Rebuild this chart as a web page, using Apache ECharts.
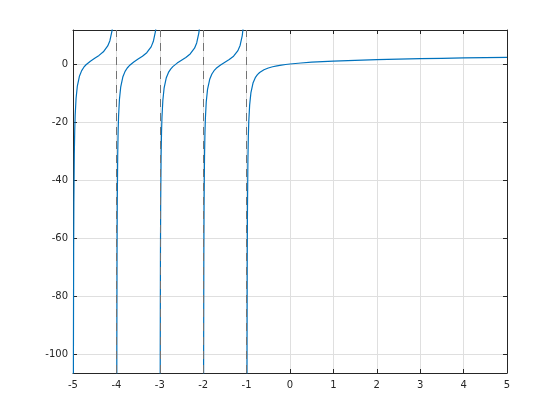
<!DOCTYPE html>
<html>
<head>
<meta charset="utf-8">
<script src="https://cdn.jsdelivr.net/npm/echarts@6/dist/echarts.min.js"></script>
<style>
  html, body { margin: 0; padding: 0; background: #fff; }
  #harmonic { width: 560px; height: 420px; }
</style>
</head>
<body>
<div id="harmonic"></div>
<script>
// harmonic(x) on [-5, 5], poles at -5 .. -1
// distance of each sample from the pole on its left
const poleOffsets = [0.008, 0.01, 0.015, 0.02, 0.03, 0.04, 0.05, 0.07, 0.1, 0.15, 0.2,
  0.25, 0.3, 0.4, 0.5, 0.6, 0.7, 0.8, 0.85, 0.9, 0.92, 0.95];
const branchPoles = [-5, -4, -3, -2];
// values read for the four closed branches
const branch5 = [-122.9, -97.89, -64.55, -47.85, -31.15, -22.79, -17.77, -11.99, -7.608, -4.116, -2.286,
  -1.115, -0.268, 0.971, 1.967, 2.962, 4.197, 6.213, 8.042, 11.53, 14.1, 21.69];
const branch4 = [-123.15, -98.14, -64.8, -48.1, -31.4, -23.04, -18.02, -12.24, -7.864, -4.376, -2.549,
  -1.382, -0.538, 0.693, 1.681, 2.668, 3.894, 5.9, 7.724, 11.21, 13.77, 21.36];
const branch3 = [-123.48, -98.47, -65.13, -48.44, -31.74, -23.38, -18.36, -12.58, -8.209, -4.727, -2.906,
  -1.746, -0.908, 0.308, 1.281, 2.251, 3.459, 5.445, 7.259, 10.73, 13.29, 20.87];
const branch2 = [-123.98, -98.97, -65.63, -48.95, -32.25, -23.89, -18.87, -13.1, -8.735, -5.267, -3.462,
  -2.317, -1.496, -0.317, 0.614, 1.537, 2.69, 4.612, 6.389, 9.822, 12.36, 19.92];
// last branch from the pole at -1 up to 5
const lastX = [-0.992, -0.99, -0.985, -0.98, -0.97, -0.96, -0.95, -0.93, -0.9, -0.85, -0.8, -0.75,
  -0.7, -0.6, -0.5, -0.4, -0.3, -0.2, -0.1, 0, 0.25, 0.5, 0.75, 1, 1.5, 2, 2.5, 3, 3.5, 4, 4.5, 5];
const lastY = [-124.99, -99.98, -66.64, -49.97, -33.28, -24.94, -19.92, -14.18, -9.847, -6.444, -4.712,
  -3.65, -2.925, -1.984, -1.386, -0.963, -0.643, -0.388, -0.178, 0, 0.35, 0.614, 0.825, 1, 1.28,
  1.5, 1.68, 1.833, 1.966, 2.083, 2.188, 2.283];
const asymptotes = [-4, -3, -2, -1];
const xTicks = [-5, -4, -3, -2, -1, 0, 1, 2, 3, 4, 5];

const axisColor = "#262626";
const lineColor = "#0072bd";
const gridColor = "#dfdfdf";

let chart = echarts.init(document.getElementById("harmonic"));

let branches = [branch5, branch4, branch3, branch2];
let series = branches.map((ys, i) => {
  return {
    type: "line",
    showSymbol: false,
    symbol: "none",
    xAxisIndex: 0,
    yAxisIndex: 0,
    lineStyle: { color: lineColor, width: 1.2 },
    data: ys.map((y, j) => [branchPoles[i] + poleOffsets[j], y]),
  };
});
series.push({
  type: "line",
  showSymbol: false,
  symbol: "none",
  xAxisIndex: 0,
  yAxisIndex: 0,
  lineStyle: { color: lineColor, width: 1.2 },
  data: lastX.map((x, j) => [x, lastY[j]]),
  markLine: {
    silent: true,
    symbol: "none",
    label: { show: false },
    lineStyle: { color: "#737373", type: [8, 6], width: 1 },
    data: asymptotes.map((a) => ({ xAxis: a })),
  },
});

let xBase = {
  type: "value",
  min: xTicks[0],
  max: xTicks[xTicks.length - 1],
  interval: 1,
  axisLine: { show: true, onZero: false, lineStyle: { color: axisColor, width: 1 } },
  axisTick: { show: true, inside: true, length: 4, lineStyle: { color: axisColor } },
};
let yBase = {
  type: "value",
  min: -106.55,
  max: 11.72,
  splitNumber: 6,
  axisLine: { show: true, onZero: false, lineStyle: { color: axisColor, width: 1 } },
  axisTick: { show: true, inside: true, length: 4, lineStyle: { color: axisColor } },
};

let option = {
  animation: false,
  backgroundColor: "#fff",
  grid: { left: 73, right: 53, top: 30, bottom: 47 },
  xAxis: [
    Object.assign({}, xBase, {
      position: "bottom",
      axisLabel: { color: axisColor, fontFamily: "DejaVu Sans", fontSize: 10, margin: 7 },
      splitLine: { show: true, lineStyle: { color: gridColor, width: 1 } },
    }),
    Object.assign({}, xBase, {
      position: "top",
      axisLabel: { show: false },
      splitLine: { show: false },
    }),
  ],
  yAxis: [
    Object.assign({}, yBase, {
      position: "left",
      axisLabel: {
        color: axisColor,
        fontFamily: "DejaVu Sans",
        fontSize: 10,
        margin: 5,
        showMinLabel: false,
        showMaxLabel: false,
      },
      splitLine: { show: true, lineStyle: { color: gridColor, width: 1 } },
    }),
    Object.assign({}, yBase, {
      position: "right",
      axisLabel: { show: false },
      splitLine: { show: false },
    }),
  ],
  series: series,
};
chart.setOption(option);
</script>
</body>
</html>
